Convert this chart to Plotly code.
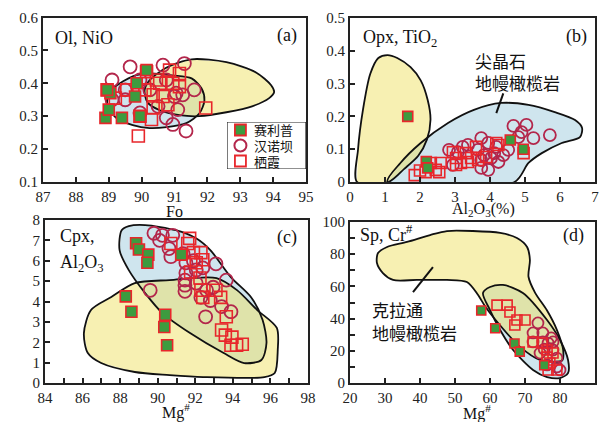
import plotly.graph_objects as go

# ---------------- data ----------------
# (a) Ol, NiO vs Fo
a_sai_x = [88.9, 89.4, 89.0, 89.05, 88.95, 89.85, 89.8, 89.95, 90.15]
a_sai_y = [0.295, 0.295, 0.32, 0.37, 0.38, 0.40, 0.36, 0.30, 0.44]
a_han_x = [89.1, 89.65, 89.1, 89.5, 89.5, 90.65, 91.3, 89.95, 90.75, 90.25, 91.0, 91.25, 91.6, 91.1, 90.75, 90.95, 91.35, 89.95, 90.5, 91.05]
a_han_y = [0.41, 0.45, 0.35, 0.35, 0.38, 0.455, 0.46, 0.41, 0.41, 0.38, 0.36, 0.365, 0.38, 0.32, 0.295, 0.275, 0.255, 0.31, 0.33, 0.37]
a_qx_x = [89.9, 90.3, 89.95, 91.95, 91.15, 90.85, 90.55, 91.15, 90.65, 90.35, 90.8, 90.35, 90.1, 89.55, 89.2, 88.95, 90.45, 90.15, 90.95]
a_qx_y = [0.24, 0.29, 0.30, 0.325, 0.43, 0.44, 0.40, 0.39, 0.36, 0.365, 0.335, 0.325, 0.38, 0.38, 0.355, 0.38, 0.41, 0.435, 0.40]
a_blue_x = [89.18, 89.73, 90.24, 90.94, 91.52, 91.82, 91.91, 91.76, 91.36, 90.76, 90.24, 89.73, 89.24, 88.97, 88.97]
a_blue_y = [0.388, 0.421, 0.430, 0.424, 0.415, 0.385, 0.348, 0.309, 0.279, 0.267, 0.264, 0.273, 0.294, 0.327, 0.358]
a_yel_x = [90.76, 91.52, 92.58, 93.48, 93.94, 94.03, 93.88, 93.36, 92.58, 91.76, 91.15, 90.55, 90.18, 90.09, 90.24]
a_yel_y = [0.448, 0.473, 0.464, 0.433, 0.394, 0.373, 0.355, 0.330, 0.312, 0.300, 0.303, 0.318, 0.342, 0.379, 0.409]

# (b) Opx, TiO2 vs Al2O3
b_sai_x = [1.65, 2.18, 2.22, 4.58, 4.95]
b_sai_y = [0.20, 0.062, 0.043, 0.128, 0.10]
b_han_x = [4.67, 5.04, 4.9, 4.81, 5.71, 5.24, 3.75, 3.95, 4.18, 4.52, 4.12, 3.83, 3.66, 3.22, 3.37, 2.83, 3.08, 4.24, 4.03, 3.75, 3.75, 3.95, 2.94, 4.38]
b_han_y = [0.171, 0.174, 0.152, 0.137, 0.143, 0.134, 0.134, 0.119, 0.107, 0.098, 0.088, 0.082, 0.098, 0.107, 0.113, 0.098, 0.091, 0.061, 0.073, 0.067, 0.043, 0.037, 0.052, 0.082]
b_qx_x = [1.85, 2.16, 2.31, 2.45, 2.55, 3.03, 3.03, 3.37, 3.66, 3.6, 4.18, 3.31, 3.46, 4.96, 2.59, 3.17, 3.89, 4.24, 2.94, 2.0]
b_qx_y = [0.021, 0.03, 0.058, 0.037, 0.03, 0.052, 0.073, 0.061, 0.067, 0.107, 0.119, 0.088, 0.073, 0.088, 0.058, 0.058, 0.076, 0.113, 0.091, 0.035]
b_yel_x = [0.2, 0.23, 0.37, 0.58, 0.81, 1.07, 1.35, 1.73, 2.02, 2.22, 2.3, 2.2, 1.95, 1.55, 1.1]
b_yel_y = [0.0, 0.1, 0.22, 0.33, 0.378, 0.387, 0.378, 0.35, 0.31, 0.25, 0.19, 0.13, 0.08, 0.04, 0.0]
b_blue_x = [1.07, 1.44, 2.02, 2.8, 3.54, 4.32, 5.1, 5.85, 6.43, 6.63, 6.57, 6.05, 5.48, 5.1, 4.7]
b_blue_y = [0.0, 0.058, 0.119, 0.18, 0.22, 0.241, 0.235, 0.213, 0.189, 0.165, 0.137, 0.119, 0.088, 0.058, 0.0]

# (c) Cpx, Al2O3 vs Mg#
c_sai_x = [88.85, 89.0, 89.5, 89.45, 88.3, 88.6, 90.4, 90.35, 90.5, 91.25]
c_sai_y = [6.86, 6.55, 6.3, 5.9, 4.25, 3.5, 3.35, 2.75, 1.85, 6.3]
c_han_x = [89.8, 90.25, 90.8, 90.1, 90.6, 90.7, 91.35, 91.9, 91.5, 91.5, 91.45, 91.45, 91.45, 92.05, 92.4, 93.1, 93.65, 92.95, 92.6, 92.3, 92.8, 93.4, 93.9, 92.55, 89.6, 92.05]
c_han_y = [7.35, 7.25, 7.25, 7.0, 6.6, 6.2, 6.35, 6.0, 5.9, 5.4, 5.05, 4.8, 4.5, 5.55, 5.65, 5.85, 5.05, 4.7, 4.55, 4.2, 4.05, 3.75, 3.5, 3.25, 4.55, 4.9]
c_qx_x = [90.7, 91.7, 91.6, 91.9, 92.3, 92.4, 92.05, 91.75, 92.25, 92.3, 92.4, 93.1, 93.35, 93.65, 93.4, 93.6, 93.95, 93.9, 94.2, 94.5]
c_qx_y = [6.85, 7.1, 6.85, 6.4, 6.4, 6.05, 5.9, 5.45, 5.15, 4.55, 4.2, 4.55, 4.2, 3.25, 2.6, 2.35, 2.25, 1.85, 1.85, 1.9]
c_blue_x = [88.08, 88.46, 89.33, 90.96, 92.04, 92.8, 93.89, 94.98, 95.58, 95.79, 95.52, 94.6, 93.51, 91.72, 90.25, 89.33, 88.46, 87.97]
c_blue_y = [7.5, 7.7, 7.75, 7.5, 7.1, 6.52, 5.2, 4.2, 3.1, 1.96, 1.13, 0.98, 1.47, 2.45, 3.43, 4.41, 5.54, 6.52]
c_yel_x = [86.07, 86.45, 87.53, 88.78, 90.63, 93.13, 94.22, 95.3, 96.34, 96.39, 96.23, 95.68, 92.42, 90.63, 88.78, 86.99, 86.28]
c_yel_y = [2.45, 3.58, 4.22, 4.9, 5.05, 5.15, 4.56, 3.58, 2.7, 1.62, 0.49, 0.29, 0.29, 0.39, 0.54, 0.98, 1.47]

# (d) Sp, Cr# vs Mg#
d_sai_x = [57.5, 61.5, 67.0, 68.5, 75.5]
d_sai_y = [45, 34, 24.5, 19.5, 11]
d_han_x = [73.7, 72.3, 75.1, 72.3, 75.1, 76.6, 78.0, 74.3, 78.0, 79.1, 76.3, 79.1, 80.0, 77.5, 75.5]
d_han_y = [37.3, 31.1, 31.1, 25.5, 25.5, 24.8, 25.5, 18.6, 20.5, 15.5, 11.2, 10.0, 8.1, 28, 21]
d_qx_x = [62.0, 64.9, 65.7, 67.7, 70.0, 67.1, 76.3, 78.0, 76.3, 77.1, 79.1, 76.6, 74.9, 72.3]
d_qx_y = [48.4, 48.4, 44.1, 39.1, 39.1, 36.0, 20.5, 18.6, 16.1, 12.4, 8.1, 8.1, 24.8, 25.5]
d_yel_x = [28, 30.6, 36.3, 42.9, 47.7, 55.1, 62.9, 67.7, 70.6, 71.4, 71, 72.9, 76.3, 79.1, 80.9, 80.6, 74.3, 68.6, 60.9, 58.5, 56.5, 53.4, 47.7, 39.1, 32.3, 29.4, 27.7]
d_yel_y = [80.7, 84.5, 87.6, 91.9, 94.4, 94.4, 93.2, 90.1, 84.5, 76.4, 66, 56, 45, 33, 20.5, 14, 14.3, 22.4, 41, 48, 55, 62.7, 64, 64, 64, 68.3, 74.5]
d_blue_x = [58, 60, 63.7, 69.4, 76.3, 80, 82.3, 82.3, 80, 76.3, 72.3, 66.6, 62.9, 60]
d_blue_y = [55.9, 59.6, 60.9, 55.9, 39.1, 26.7, 14.3, 6.2, 3.1, 3.7, 8.1, 20.5, 32.9, 45.3]

legend_names = ["赛利普", "汉诺坝", "栖霞"]

# ---------------- styling ----------------
GREEN = "#3d9b3f"
RED = "#e8262b"
CRIMSON = "#b3264b"
YEL = "rgba(239,225,101,0.5)"
BLUE = "rgb(207,229,238)"
AX = "#222222"
SERIF = "Liberation Serif"
CJK = "Noto Sans CJK SC"

fig = go.Figure()


def close(v):
    return list(v) + [v[0]]


def add_panel(n, blue, yel, sai, han, qx, msz):
    xa = "x" if n == 1 else f"x{n}"
    ya = "y" if n == 1 else f"y{n}"
    fig.add_trace(go.Scatter(x=close(blue[0]), y=close(blue[1]), fill="toself", fillcolor=BLUE,
                             mode="lines", line=dict(width=0), xaxis=xa, yaxis=ya,
                             showlegend=False, hoverinfo="skip"))
    fig.add_trace(go.Scatter(x=close(yel[0]), y=close(yel[1]), fill="toself", fillcolor=YEL,
                             mode="lines", line=dict(width=0), xaxis=xa, yaxis=ya,
                             showlegend=False, hoverinfo="skip"))
    for reg in (blue, yel):
        fig.add_trace(go.Scatter(x=close(reg[0]), y=close(reg[1]), mode="lines",
                                 line=dict(color="#111111", width=1.8, shape="spline", smoothing=0.8),
                                 xaxis=xa, yaxis=ya, showlegend=False, hoverinfo="skip"))
    fig.add_trace(go.Scatter(x=han[0], y=han[1], mode="markers", xaxis=xa, yaxis=ya,
                             marker=dict(symbol="circle-open", size=msz + 1, color=CRIMSON,
                                         line=dict(width=1.8, color=CRIMSON)),
                             showlegend=False, name=legend_names[1]))
    fig.add_trace(go.Scatter(x=qx[0], y=qx[1], mode="markers", xaxis=xa, yaxis=ya,
                             marker=dict(symbol="square-open", size=msz, color=RED,
                                         line=dict(width=1.6, color=RED)),
                             showlegend=False, name=legend_names[2]))
    fig.add_trace(go.Scatter(x=sai[0], y=sai[1], mode="markers", xaxis=xa, yaxis=ya,
                             marker=dict(symbol="square", size=msz - 1, color=GREEN,
                                         line=dict(width=1.6, color=RED)),
                             showlegend=False, name=legend_names[0]))


add_panel(1, (a_blue_x, a_blue_y), (a_yel_x, a_yel_y), (a_sai_x, a_sai_y), (a_han_x, a_han_y), (a_qx_x, a_qx_y), 12)
add_panel(2, (b_blue_x, b_blue_y), (b_yel_x, b_yel_y), (b_sai_x, b_sai_y), (b_han_x, b_han_y), (b_qx_x, b_qx_y), 11)
add_panel(3, (c_blue_x, c_blue_y), (c_yel_x, c_yel_y), (c_sai_x, c_sai_y), (c_han_x, c_han_y), (c_qx_x, c_qx_y), 12)
add_panel(4, (d_blue_x, d_blue_y), (d_yel_x, d_yel_y), (d_sai_x, d_sai_y), (d_han_x, d_han_y), (d_qx_x, d_qx_y), 10)

# manual legend (axis 5)
leg_y = [0.83, 0.5, 0.17]
fig.add_trace(go.Scatter(x=[0.17], y=[leg_y[0]], mode="markers", xaxis="x5", yaxis="y5", showlegend=False,
                         marker=dict(symbol="square", size=11, color=GREEN, line=dict(width=1.8, color=RED))))
fig.add_trace(go.Scatter(x=[0.17], y=[leg_y[1]], mode="markers", xaxis="x5", yaxis="y5", showlegend=False,
                         marker=dict(symbol="circle-open", size=12, color=CRIMSON, line=dict(width=2, color=CRIMSON))))
fig.add_trace(go.Scatter(x=[0.17], y=[leg_y[2]], mode="markers", xaxis="x5", yaxis="y5", showlegend=False,
                         marker=dict(symbol="square-open", size=11, color=RED, line=dict(width=1.8, color=RED))))


def px(v):
    return v / 600.0


def py(v):
    return 1 - v / 422.0


axis_common = dict(showline=True, linecolor=AX, linewidth=1.8, mirror=True, ticks="inside",
                   ticklen=5, tickwidth=1.5, tickcolor=AX, showgrid=False, zeroline=False,
                   automargin=False, tickfont=dict(family=SERIF, size=15, color=AX))

layout = dict(
    template="none",
    width=600, height=422, margin=dict(l=0, r=0, t=0, b=0, pad=0, autoexpand=False),
    paper_bgcolor="white", plot_bgcolor="white", showlegend=False,
    xaxis=dict(domain=[px(43), px(306)], range=[87, 95], dtick=1, anchor="y", **axis_common),
    yaxis=dict(domain=[py(182), py(17.5)], range=[0.1, 0.6], dtick=0.1, tickformat=".1f", anchor="x", **axis_common),
    xaxis2=dict(domain=[px(350), px(595)], range=[0, 7], dtick=1, anchor="y2", **axis_common),
    yaxis2=dict(domain=[py(182), py(18)], range=[0, 0.5], dtick=0.1, anchor="x2", **axis_common),
    xaxis3=dict(domain=[px(45), px(308)], range=[84, 98], dtick=2, anchor="y3",
                minor=dict(dtick=1, ticks="inside", ticklen=5, tickcolor=AX), **axis_common),
    yaxis3=dict(domain=[py(383), py(220)], range=[0, 8], dtick=1, anchor="x3", **axis_common),
    xaxis4=dict(domain=[px(350), px(595)], range=[20, 90], dtick=10, anchor="y4", **axis_common),
    yaxis4=dict(domain=[py(383), py(222)], range=[0, 100], dtick=20, anchor="x4",
                minor=dict(dtick=10, ticks="inside", ticklen=5, tickcolor=AX), **axis_common),
    xaxis5=dict(domain=[px(227), px(306)], range=[0, 1], visible=False, anchor="y5", automargin=False),
    yaxis5=dict(domain=[py(169), py(122)], range=[0, 1], visible=False, anchor="x5", automargin=False),
)
fig.update_layout(**layout)

fig.add_shape(type="rect", xref="x5", yref="y5", x0=0, x1=1, y0=0, y1=1,
              line=dict(color=AX, width=1.2), fillcolor="rgba(0,0,0,0)", layer="above")

ann = []


def A(text, x, y, size=17, family=SERIF, xanchor="left", yanchor="middle", xref="paper", yref="paper"):
    ann.append(dict(text=text, x=x, y=y, xref=xref, yref=yref, showarrow=False, borderpad=0,
                    xanchor=xanchor, yanchor=yanchor, font=dict(family=family, size=size, color="#111111")))


for name, yy in zip(legend_names, leg_y):
    A(name, 0.33, yy, size=13, family=CJK, xref="x5", yref="y5")

A("Ol, NiO", px(54), py(38), size=18)
A("(a)", px(298), py(35), size=18, xanchor="right")
A("Opx, TiO<sub>2</sub>", px(362), py(38), size=18)
A("(b)", px(588), py(36), size=18, xanchor="right")
A("Cpx,", px(59), py(236), size=18)
A("Al<sub>2</sub>O<sub>3</sub>", px(59), py(263), size=18)
A("(c)", px(298), py(237), size=18, xanchor="right")
A("Sp, Cr<sup>#</sup>", px(359), py(234), size=18)
A("(d)", px(585), py(235), size=18, xanchor="right")

A("尖晶石", px(474), py(60), size=17, family=CJK)
A("地幔橄榄岩", px(474), py(82), size=17, family=CJK)
A("克拉通", px(371), py(309), size=17, family=CJK)
A("地幔橄榄岩", px(371), py(332), size=17, family=CJK)

A("Fo", px(174), py(211), size=16, xanchor="center")
A("Al<sub>2</sub>O<sub>3</sub>(%)", px(483), py(210), size=16, xanchor="center")
A("Mg<sup>#</sup>", px(176), py(411), size=16, xanchor="center")
A("Mg<sup>#</sup>", px(477), py(412), size=16, xanchor="center")

fig.update_layout(annotations=ann)

fig.add_shape(type="line", xref="x2", yref="y2", x0=4.18, y0=0.21, x1=4.38, y1=0.27,
              line=dict(color="#111111", width=2))
fig.add_shape(type="line", xref="x4", yref="y4", x0=38, y0=56.5, x1=43.7, y1=72,
              line=dict(color="#111111", width=2))

fig.write_html("out.html", config={"displayModeBar": False},
               post_script="document.body.style.margin='0px';document.body.style.overflow='hidden';")
